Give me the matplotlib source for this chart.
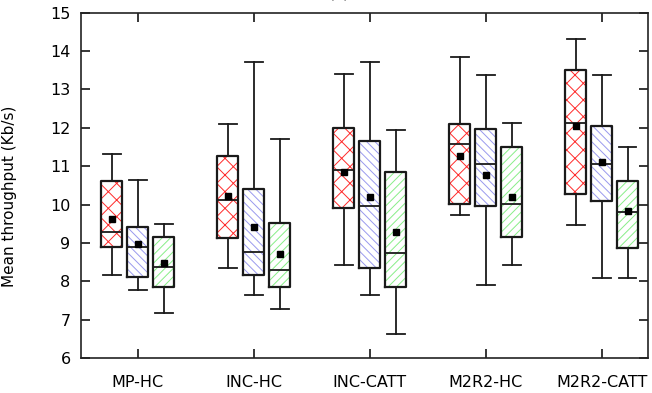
import matplotlib
matplotlib.use("Agg")
import matplotlib.pyplot as plt
import numpy as np

groups = ["MP-HC", "INC-HC", "INC-CATT", "M2R2-HC", "M2R2-CATT"]

# series 1 (red, cross hatch)
red_whislo = [8.18, 8.34, 8.43, 9.74, 9.48]
red_q1 = [8.91, 9.14, 9.91, 10.03, 10.28]
red_med = [9.29, 10.11, 10.91, 11.59, 12.14]
red_q3 = [10.63, 11.28, 11.99, 12.09, 13.52]
red_whishi = [11.31, 12.09, 13.41, 13.84, 14.32]
red_mean = [9.64, 10.23, 10.85, 11.28, 12.06]

# series 2 (blue, back diagonal)
blue_whislo = [7.79, 7.64, 7.66, 7.92, 8.09]
blue_q1 = [8.13, 8.18, 8.36, 9.96, 10.09]
blue_med = [8.91, 8.78, 9.96, 11.07, 11.07]
blue_q3 = [9.42, 10.41, 11.66, 11.96, 12.05]
blue_whishi = [10.65, 13.72, 13.71, 13.39, 13.39]
blue_mean = [8.98, 9.42, 10.20, 10.78, 11.12]

# series 3 (green, forward diagonal)
green_whislo = [7.17, 7.29, 6.64, 8.42, 8.09]
green_q1 = [7.85, 7.85, 7.85, 9.16, 8.86]
green_med = [8.38, 8.29, 8.75, 10.01, 9.81]
green_q3 = [9.16, 9.52, 10.85, 11.49, 10.63]
green_whishi = [9.50, 11.70, 11.95, 12.13, 11.50]
green_mean = [8.48, 8.71, 9.30, 10.20, 9.83]

series = [
    (red_whislo, red_q1, red_med, red_q3, red_whishi, red_mean, "#ff2a2a", "xx"),
    (blue_whislo, blue_q1, blue_med, blue_q3, blue_whishi, blue_mean, "#9999ee", "\\\\\\\\"),
    (green_whislo, green_q1, green_med, green_q3, green_whishi, green_mean, "#88ee88", "////"),
]

plt.rcParams["hatch.linewidth"] = 0.7

fig = plt.figure(figsize=(6.52, 3.93), dpi=100)
ax = fig.add_axes([0.1242, 0.0883, 0.8697, 0.8794])

x = np.arange(1, len(groups) + 1)
offsets = [-0.224, 0.0, 0.224]
width = 0.18

for (lo, q1, med, q3, hi, mean, col, hatch), off in zip(series, offsets):
    stats = []
    for i in range(len(groups)):
        stats.append(dict(whislo=lo[i], q1=q1[i], med=med[i], q3=q3[i],
                          whishi=hi[i], mean=mean[i], fliers=[]))
    pos = x + off
    # hatched fill
    ax.bxp(stats, positions=pos, widths=width, patch_artist=True,
           showcaps=False, showmeans=False,
           boxprops=dict(facecolor="white", edgecolor=col, hatch=hatch, linewidth=0),
           whiskerprops=dict(linewidth=0), medianprops=dict(linewidth=0),
           manage_ticks=False)
    # outlines, whiskers, medians, means
    ax.bxp(stats, positions=pos, widths=width, capwidths=width * 0.85,
           showmeans=True,
           boxprops=dict(color="#1a1a1a", linewidth=1.6),
           whiskerprops=dict(color="#1a1a1a", linewidth=1.3),
           capprops=dict(color="#1a1a1a", linewidth=1.3),
           medianprops=dict(color="#1a1a1a", linewidth=1.3),
           meanprops=dict(marker="s", markerfacecolor="black",
                          markeredgecolor="black", markersize=5),
           manage_ticks=False)

ax.set_xlim(0.51, 5.4)
ax.set_ylim(6, 15)
ax.set_xticks(x)
ax.set_xticklabels(groups)
ax.set_yticks(range(6, 16))
ax.tick_params(direction="in", top=True, right=True, length=6.5, width=1.1,
               labelsize=11.5)
ax.tick_params(axis="y", pad=7.5)
ax.tick_params(axis="x", pad=12)
for s in ax.spines.values():
    s.set_linewidth(1.2)
    s.set_color("#222222")

ax.set_ylabel("Mean throughput (Kb/s)", fontsize=11)
ax.yaxis.set_label_coords(-0.113, 0.47)

# title sits mostly above the figure edge, as in the source image
fig.text(0.52, 0.999, "(a)", ha="center", va="bottom", fontsize=11)

fig.savefig("out.png", dpi=100)
